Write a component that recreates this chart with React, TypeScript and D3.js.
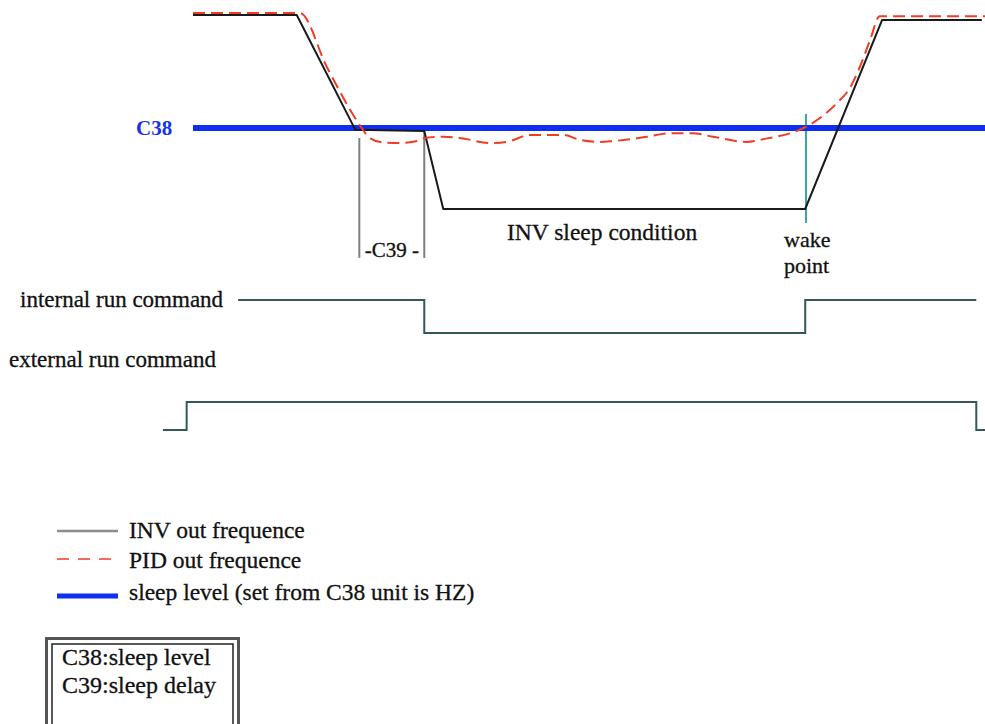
import React from "react";
import * as d3 from "d3";

// ---- data (time units 0..100, frequency in Hz) ----
const invTime = [0, 13.1, 20.5, 29.2, 31.6, 77.3, 87.0, 99.6];
const invFreq = [50, 50, 20.4, 20.1, 0, 0, 48.7, 48.7];

const pidTime = [0, 13.5, 16.9, 20.8, 21.3, 22.3, 24.2, 26.1, 28.0, 29.3, 31.6, 33.7, 37.5, 39.6, 42.6, 46.7, 48.9, 51.4, 53.0, 57.3, 60.2, 63.1, 65.7, 69.9, 72.5, 75.4, 77.4, 79.2, 81.3, 83.0, 84.2, 85.5, 86.7, 100];
const pidFreq = [50.5, 50.5, 36.6, 22.4, 20.9, 18.3, 17.1, 17.0, 17.4, 18.3, 18.6, 18.3, 17.0, 17.3, 19.1, 19.1, 17.8, 17.3, 17.5, 18.6, 19.5, 19.5, 18.6, 17.3, 18.2, 19.5, 21.2, 23.5, 27.3, 31.4, 36.6, 43.6, 49.7, 49.7];

const sleepLevel = 20.9; // C38
const sleepSpan = [0, 100];

const c39Start = 21.0;
const c39End = 29.2;
const wakeTime = 77.4;

const internalRunTime = [5.7, 29.2, 77.3, 98.9];
const internalRunState = [1, 0, 1, 1];
const externalRunTime = [-3.8, -0.8, 98.9, 100];
const externalRunState = [0, 1, 0, 0];

const legendLabels = [
  "INV out frequence",
  "PID out frequence",
  "sleep level (set from C38 unit is HZ)",
];
const noteLines = ["C38:sleep level", "C39:sleep delay"];

const FONT = "'Liberation Serif', 'Times New Roman', serif";

export default function App() {
  const W = 985;
  const H = 724;
  const x = d3.scaleLinear().domain([0, 100]).range([193, 985]);
  const y = d3.scaleLinear().domain([0, 50]).range([209, 15]);
  const yInt = d3.scaleLinear().domain([0, 1]).range([333, 300]);
  const yExt = d3.scaleLinear().domain([0, 1]).range([430, 402]);

  const lineLin = d3
    .line<[number, number]>()
    .x((d) => x(d[0]))
    .y((d) => y(d[1]));
  const lineSmooth = d3
    .line<[number, number]>()
    .x((d) => x(d[0]))
    .y((d) => y(d[1]))
    .curve(d3.curveMonotoneX);
  const stepInt = d3
    .line<[number, number]>()
    .x((d) => x(d[0]))
    .y((d) => yInt(d[1]))
    .curve(d3.curveStepAfter);
  const stepExt = d3
    .line<[number, number]>()
    .x((d) => x(d[0]))
    .y((d) => yExt(d[1]))
    .curve(d3.curveStepAfter);

  const inv = invTime.map((t, i) => [t, invFreq[i]] as [number, number]);
  const pid = pidTime.map((t, i) => [t, pidFreq[i]] as [number, number]);
  const intRun = internalRunTime.map((t, i) => [t, internalRunState[i]] as [number, number]);
  const extRun = externalRunTime.map((t, i) => [t, externalRunState[i]] as [number, number]);

  const legendY = [531, 559, 596];
  const legendTextY = [538, 568, 600];
  const txt = { fill: "#111", stroke: "#111", strokeWidth: 0.3 };

  return (
    <svg
      width={W}
      height={H}
      style={{ position: "absolute", left: 0, top: 0, background: "#fff" }}
      fontFamily={FONT}
    >
      <rect x={0} y={0} width={W} height={H} fill="#ffffff" />

      {/* C39 markers */}
      <line x1={x(c39Start)} x2={x(c39Start)} y1={y(18.3)} y2={y(-12.6)} stroke="#7f7f7f" strokeWidth={2} />
      <line x1={x(c39End)} x2={x(c39End)} y1={y(20.1)} y2={y(-12.6)} stroke="#7f7f7f" strokeWidth={2} />
      <text x={(x(c39Start) + x(c39End)) / 2} y={257} textAnchor="middle" fontSize={21} {...txt}>
        -C39 -
      </text>

      {/* wake point marker */}
      <line x1={x(wakeTime)} x2={x(wakeTime)} y1={y(24.5)} y2={y(-3.6)} stroke="#3aa6a6" strokeWidth={2} />

      {/* sleep level */}
      <line
        x1={x(sleepSpan[0])}
        x2={x(sleepSpan[1])}
        y1={y(sleepLevel)}
        y2={y(sleepLevel)}
        stroke="#0d2ff2"
        strokeWidth={6}
      />
      <text x={136} y={y(sleepLevel) + 7} fontSize={21} fontWeight="bold" fill="#1533e8">
        C38
      </text>

      {/* INV out frequency */}
      <path d={lineLin(inv) || ""} fill="none" stroke="#1a1a1a" strokeWidth={2} strokeLinejoin="round" />

      {/* PID out frequency */}
      <path d={lineSmooth(pid) || ""} fill="none" stroke="#f23a24" strokeWidth={2} strokeDasharray="12,6" />

      <text x={507} y={240} fontSize={23.5} {...txt}>INV sleep condition</text>
      <text x={784} y={247} fontSize={22} {...txt}>wake</text>
      <text x={784} y={273} fontSize={22} {...txt}>point</text>

      {/* run commands */}
      <text x={20} y={307} fontSize={23} {...txt}>internal run command</text>
      <path d={stepInt(intRun) || ""} fill="none" stroke="#345858" strokeWidth={2} />
      <text x={9} y={367} fontSize={23} {...txt}>external run command</text>
      <path d={stepExt(extRun) || ""} fill="none" stroke="#345858" strokeWidth={2} />

      {/* legend */}
      <line x1={57} x2={118} y1={legendY[0]} y2={legendY[0]} stroke="#8c8c8c" strokeWidth={2.5} />
      <line x1={57} x2={118} y1={legendY[1]} y2={legendY[1]} stroke="#f23a24" strokeWidth={1.5} strokeDasharray="12,9" />
      <line x1={57} x2={118} y1={legendY[2]} y2={legendY[2]} stroke="#0d2ff2" strokeWidth={5} />
      {legendLabels.map((s, i) => (
        <text key={s} x={129} y={legendTextY[i]} fontSize={23.5} {...txt}>
          {s}
        </text>
      ))}

      {/* note box */}
      <rect x={46.5} y={638.5} width={192} height={110} fill="none" stroke="#555" strokeWidth={3} />
      <rect x={52} y={644} width={181} height={100} fill="none" stroke="#222" strokeWidth={1.5} />
      {noteLines.map((s, i) => (
        <text key={s} x={62} y={665 + i * 28} fontSize={24} {...txt}>
          {s}
        </text>
      ))}
    </svg>
  );
}
